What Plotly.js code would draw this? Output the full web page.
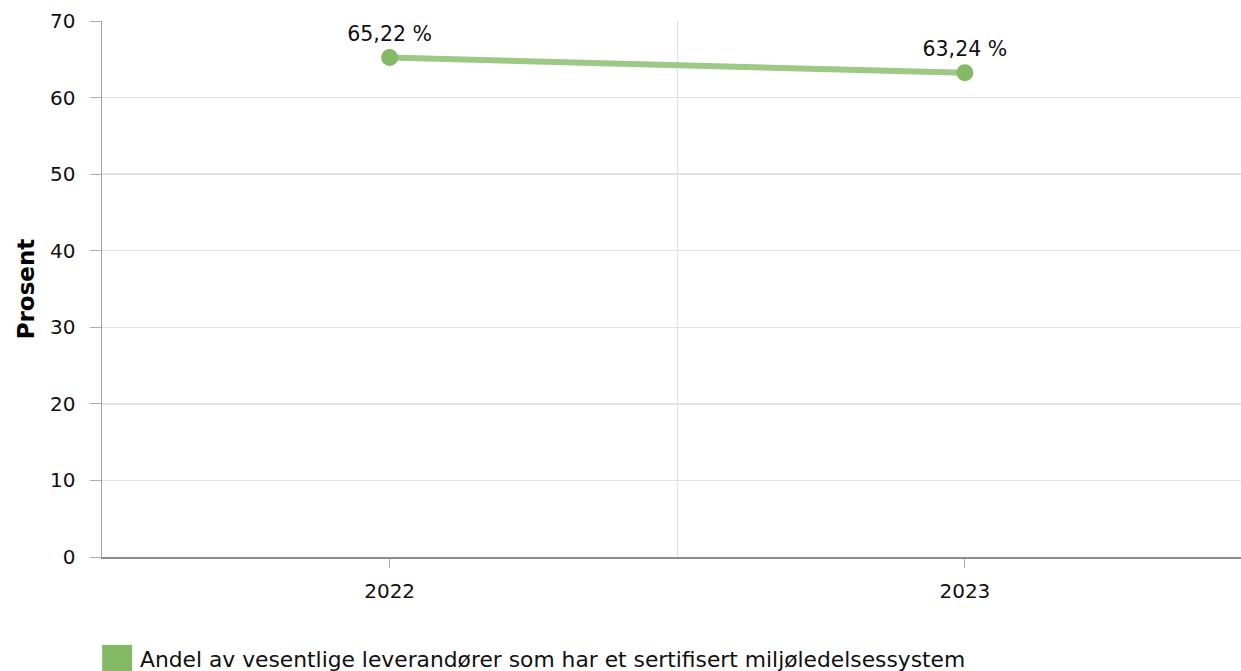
<!DOCTYPE html>
<html>
<head>
<meta charset="utf-8">
<script src="https://cdn.plot.ly/plotly-3.0.1.min.js"></script>
<style>html,body{margin:0;padding:0;background:#fff;}#chart{width:1241px;height:671px;}</style>
</head>
<body>
<div id="chart"></div>
<script>
const categories = ['2022', '2023'];
const values = [65.22, 63.24];
const seriesName = 'Andel av vesentlige leverandører som har et sertifisert miljøledelsessystem';
const yTitle = 'Prosent';
const yTicks = [0, 10, 20, 30, 40, 50, 60, 70];

const labels = values.map(v => v.toFixed(2).replace('.', ',') + ' %');
const FONT = 'DejaVu Sans, Verdana, sans-serif';

const traces = [
  {
    x: categories, y: values, xaxis: 'x2', yaxis: 'y',
    mode: 'lines', line: {color: 'rgba(0,0,0,0)', width: 0},
    hoverinfo: 'skip', showlegend: false
  },
  {
    x: categories, y: values, name: seriesName,
    mode: 'lines+markers+text',
    line: {color: '#9dc886', width: 6},
    marker: {color: '#84ba65', size: 17},
    text: labels, textposition: 'top center',
    textfont: {family: FONT, size: 20.5, color: '#111'},
    cliponaxis: false, showlegend: false
  }
];

const layout = {
  width: 1241, height: 671,
  margin: {l: 102, r: 0, t: 21, b: 114},
  paper_bgcolor: '#fff', plot_bgcolor: '#fff',
  font: {family: FONT, size: 20, color: '#111'},
  showlegend: false,
  xaxis: {
    type: 'category', range: [-0.5, 1.48],
    showgrid: false, zeroline: false,
    showline: true, linecolor: '#8c8c8c', linewidth: 1.5,
    ticks: 'outside', ticklen: 9, tickcolor: '#aaa', tickwidth: 1,
    ticklabelstandoff: 6,
    tickfont: {family: FONT, size: 20, color: '#111'},
    fixedrange: true
  },
  xaxis2: {
    type: 'category', overlaying: 'x', range: [-0.5, 1.48],
    tickson: 'boundaries', showgrid: true, gridcolor: '#e0e0e0', gridwidth: 1,
    ticks: '', showticklabels: false, showline: false, zeroline: false
  },
  yaxis: {
    range: [0, 70], tickvals: yTicks,
    showgrid: true, gridcolor: '#e3e3e3', gridwidth: 1.5,
    zeroline: false,
    showline: true, linecolor: '#a0a0a0', linewidth: 1.5,
    ticks: 'outside', ticklen: 11, tickcolor: '#aaa', tickwidth: 1,
    ticklabelstandoff: 10,
    tickfont: {family: FONT, size: 20, color: '#111'},
    title: {text: yTitle, font: {family: FONT, size: 23, color: '#000', weight: 'bold'}, standoff: 9},
    automargin: false
  },
  shapes: [{
    type: 'rect', xref: 'paper', yref: 'paper',
    x0: 0.0001, x1: 0.0265, y0: -0.164, y1: -0.215,
    fillcolor: '#84ba65', line: {width: 0}
  }],
  annotations: [{
    xref: 'paper', yref: 'paper', x: 0.032, y: -0.192,
    xanchor: 'left', yanchor: 'middle', showarrow: false,
    text: seriesName, font: {family: FONT, size: 21.8, color: '#111'}
  }]
};

Plotly.newPlot('chart', traces, layout, {displayModeBar: false, staticPlot: true});
</script>
</body>
</html>
